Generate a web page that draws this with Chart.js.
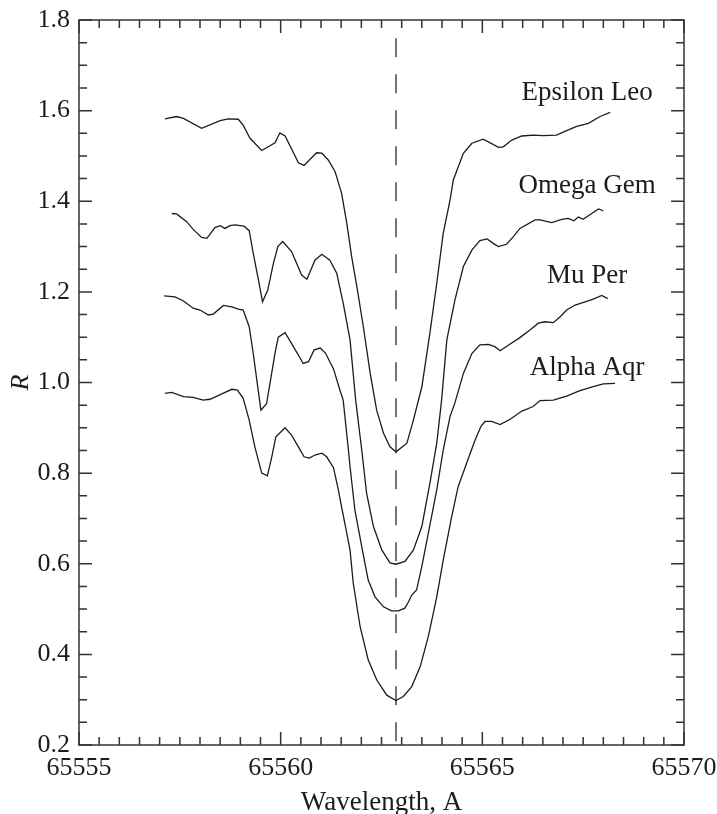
<!DOCTYPE html>
<html>
<head>
<meta charset="utf-8">
<script src="https://cdn.jsdelivr.net/npm/chart.js@4/dist/chart.umd.min.js"></script>
<style>
  html, body { margin: 0; padding: 0; background: #fff; }
  #wrap { width: 717px; height: 814px; }
</style>
</head>
<body>
<div id="wrap"><canvas id="spectraChart"></canvas></div>
<script>
// Data block (wavelength in A, residual intensity R)
const epsX = [65557.13, 65557.42, 65557.59, 65558.04, 65558.50, 65558.70, 65558.95, 65559.07, 65559.24, 65559.53, 65559.86, 65559.98, 65560.11, 65560.44, 65560.58, 65560.89, 65561.02, 65561.18, 65561.35, 65561.51, 65561.64, 65561.76, 65561.89, 65562.05, 65562.22, 65562.38, 65562.55, 65562.71, 65562.86, 65563.13, 65563.29, 65563.50, 65563.70, 65563.87, 65564.03, 65564.20, 65564.28, 65564.53, 65564.74, 65565.02, 65565.15, 65565.40, 65565.52, 65565.73, 65565.98, 65566.26, 65566.51, 65566.84, 65567.09, 65567.34, 65567.63, 65567.92, 65568.17];
const epsY = [1.582, 1.587, 1.583, 1.561, 1.578, 1.582, 1.581, 1.568, 1.539, 1.512, 1.529, 1.551, 1.544, 1.485, 1.479, 1.507, 1.506, 1.491, 1.465, 1.418, 1.351, 1.278, 1.211, 1.123, 1.020, 0.939, 0.888, 0.858, 0.847, 0.866, 0.917, 0.990, 1.109, 1.219, 1.329, 1.403, 1.447, 1.506, 1.528, 1.537, 1.531, 1.519, 1.520, 1.535, 1.544, 1.546, 1.545, 1.546, 1.556, 1.565, 1.572, 1.587, 1.596];

const omgX = [65557.30, 65557.42, 65557.67, 65557.83, 65558.04, 65558.17, 65558.37, 65558.50, 65558.62, 65558.74, 65558.87, 65559.09, 65559.22, 65559.32, 65559.45, 65559.55, 65559.68, 65559.82, 65559.93, 65560.05, 65560.27, 65560.52, 65560.65, 65560.85, 65561.02, 65561.22, 65561.39, 65561.55, 65561.72, 65561.86, 65562.01, 65562.13, 65562.30, 65562.51, 65562.71, 65562.86, 65563.08, 65563.29, 65563.50, 65563.70, 65563.87, 65563.99, 65564.12, 65564.32, 65564.53, 65564.74, 65564.94, 65565.12, 65565.27, 65565.40, 65565.60, 65565.77, 65565.93, 65566.31, 65566.43, 65566.72, 65566.97, 65567.13, 65567.27, 65567.38, 65567.50, 65567.71, 65567.88, 65568.00];
const omgY = [1.373, 1.372, 1.355, 1.338, 1.320, 1.318, 1.342, 1.346, 1.340, 1.346, 1.348, 1.345, 1.335, 1.285, 1.226, 1.178, 1.204, 1.263, 1.300, 1.311, 1.289, 1.237, 1.228, 1.270, 1.283, 1.270, 1.241, 1.175, 1.094, 0.961, 0.851, 0.756, 0.682, 0.630, 0.602, 0.599, 0.605, 0.630, 0.682, 0.778, 0.866, 0.961, 1.094, 1.182, 1.256, 1.292, 1.313, 1.317, 1.307, 1.300, 1.305, 1.322, 1.340, 1.359, 1.359, 1.353, 1.360, 1.362, 1.357, 1.365, 1.360, 1.373, 1.383, 1.379];

const muX = [65557.11, 65557.38, 65557.59, 65557.83, 65558.00, 65558.21, 65558.33, 65558.58, 65558.79, 65558.95, 65559.07, 65559.22, 65559.32, 65559.42, 65559.51, 65559.65, 65559.75, 65559.86, 65559.94, 65560.11, 65560.33, 65560.56, 65560.69, 65560.83, 65560.98, 65561.11, 65561.31, 65561.47, 65561.55, 65561.68, 65561.72, 65561.84, 65562.01, 65562.17, 65562.34, 65562.55, 65562.75, 65562.92, 65563.08, 65563.17, 65563.25, 65563.37, 65563.50, 65563.66, 65563.87, 65564.03, 65564.20, 65564.32, 65564.53, 65564.74, 65564.94, 65565.15, 65565.31, 65565.44, 65565.69, 65565.93, 65566.18, 65566.39, 65566.55, 65566.76, 65566.93, 65567.09, 65567.30, 65567.55, 65567.75, 65567.96, 65568.11];
const muY = [1.191, 1.189, 1.180, 1.164, 1.160, 1.149, 1.151, 1.170, 1.167, 1.162, 1.160, 1.123, 1.064, 0.998, 0.939, 0.953, 1.006, 1.065, 1.100, 1.110, 1.077, 1.042, 1.046, 1.072, 1.076, 1.065, 1.030, 0.983, 0.961, 0.851, 0.814, 0.719, 0.638, 0.564, 0.527, 0.505, 0.496, 0.496, 0.502, 0.516, 0.531, 0.542, 0.594, 0.667, 0.763, 0.851, 0.925, 0.955, 1.020, 1.064, 1.083, 1.084, 1.079, 1.070, 1.085, 1.099, 1.116, 1.131, 1.134, 1.132, 1.145, 1.160, 1.171, 1.178, 1.184, 1.192, 1.185];

const alpX = [65557.13, 65557.30, 65557.59, 65557.83, 65558.08, 65558.25, 65558.54, 65558.79, 65558.93, 65559.07, 65559.22, 65559.36, 65559.53, 65559.67, 65559.78, 65559.88, 65560.11, 65560.27, 65560.44, 65560.58, 65560.71, 65560.85, 65561.02, 65561.14, 65561.31, 65561.43, 65561.50, 65561.64, 65561.72, 65561.80, 65561.97, 65562.17, 65562.38, 65562.63, 65562.86, 65563.04, 65563.25, 65563.46, 65563.66, 65563.87, 65564.03, 65564.24, 65564.40, 65564.61, 65564.82, 65564.97, 65565.07, 65565.23, 65565.44, 65565.69, 65565.98, 65566.26, 65566.43, 65566.76, 65567.09, 65567.42, 65567.75, 65568.00, 65568.29];
const alpY = [0.976, 0.978, 0.969, 0.967, 0.961, 0.963, 0.975, 0.985, 0.983, 0.965, 0.917, 0.858, 0.800, 0.794, 0.836, 0.880, 0.900, 0.884, 0.858, 0.836, 0.833, 0.840, 0.844, 0.836, 0.812, 0.763, 0.730, 0.667, 0.630, 0.557, 0.461, 0.388, 0.344, 0.310, 0.298, 0.307, 0.329, 0.373, 0.439, 0.527, 0.608, 0.704, 0.770, 0.822, 0.873, 0.904, 0.914, 0.914, 0.907, 0.919, 0.937, 0.947, 0.960, 0.961, 0.970, 0.982, 0.991, 0.997, 0.998];

// Rest wavelength marker (dashed line)
const restX = [65562.86, 65562.86];
const restY = [1.76, 0.2];

// Star names written next to the curves
const starNames = ['Epsilon Leo', 'Omega Gem', 'Mu Per', 'Alpha Aqr'];
const nameX = [65567.6, 65567.6, 65567.6, 65567.6];
const nameY = [1.623, 1.419, 1.219, 1.017];

const SERIF = '"Liberation Serif", "Times New Roman", serif';
const INK = '#1c1c1c';

function toPoints(xs, ys) {
    return xs.map((x, i) => ({x: x, y: ys[i]}));
}

function lineSet(xs, ys, extra) {
    return Object.assign({
        data: toPoints(xs, ys),
        showLine: true,
        borderColor: INK,
        borderWidth: 1.3,
        pointRadius: 0,
        tension: 0,
        fill: false,
    }, extra || {});
}

// Frame with inward ticks on all four sides + star names
const frameAndNames = {
    id: 'frameAndNames',
    afterDatasetsDraw(chart) {
        const {ctx, chartArea: a, scales: {x, y}} = chart;
        ctx.save();
        ctx.strokeStyle = '#333';
        ctx.lineWidth = 1.5;
        ctx.strokeRect(a.left, a.top, a.right - a.left, a.bottom - a.top);

        ctx.beginPath();
        // x ticks every 0.5 A, long ones every 5 A
        for (let i = 0; i <= 30; i++) {
            const px = x.getPixelForValue(65555 + i * 0.5);
            const len = i % 10 === 0 ? 13 : 8;
            ctx.moveTo(px, a.bottom); ctx.lineTo(px, a.bottom - len);
            ctx.moveTo(px, a.top); ctx.lineTo(px, a.top + len);
        }
        // y ticks every 0.05, long ones every 0.2
        for (let i = 0; i <= 32; i++) {
            const py = y.getPixelForValue(0.2 + i * 0.05);
            const len = i % 4 === 0 ? 13 : 8;
            ctx.moveTo(a.left, py); ctx.lineTo(a.left + len, py);
            ctx.moveTo(a.right, py); ctx.lineTo(a.right - len, py);
        }
        ctx.stroke();

        ctx.fillStyle = INK;
        ctx.font = '27px ' + SERIF;
        ctx.textAlign = 'center';
        ctx.textBaseline = 'alphabetic';
        starNames.forEach((name, i) => {
            ctx.fillText(name, x.getPixelForValue(nameX[i]), y.getPixelForValue(nameY[i]));
        });
        ctx.restore();
    }
};

// Config block
const spectraConfig = {
    type: 'scatter',
    data: {
        datasets: [
            lineSet(epsX, epsY),
            lineSet(omgX, omgY),
            lineSet(muX, muY),
            lineSet(alpX, alpY),
            lineSet(restX, restY, {borderDash: [19, 17], borderWidth: 1.2}),
        ]
    },
    options: {
        responsive: true,
        maintainAspectRatio: false,
        animation: false,
        layout: {
            padding: {left: 0, top: 20, right: 33, bottom: 0}
        },
        plugins: {
            legend: {display: false},
            tooltip: {enabled: false}
        },
        scales: {
            x: {
                type: 'linear',
                min: 65555,
                max: 65570,
                grid: {display: false, drawTicks: false},
                border: {display: false},
                ticks: {
                    stepSize: 5,
                    padding: 8,
                    color: INK,
                    font: {family: SERIF, size: 26},
                    callback: v => String(v)
                },
                title: {
                    display: true,
                    text: 'Wavelength, A',
                    color: INK,
                    font: {family: SERIF, size: 27, lineHeight: 0.8},
                    padding: {top: 0, bottom: 0}
                },
                // fixed axis height, no extra room for edge labels
                afterFit: scale => {
                    scale.height = 69;
                    scale.paddingLeft = 0;
                    scale.paddingRight = 0;
                }
            },  // End x axis
            y: {
                min: 0.2,
                max: 1.8,
                grid: {display: false, drawTicks: false},
                border: {display: false},
                ticks: {
                    stepSize: 0.2,
                    padding: 9,
                    color: INK,
                    font: {family: SERIF, size: 26},
                    callback: v => v.toFixed(1)
                },
                title: {
                    display: true,
                    text: 'R',
                    color: INK,
                    font: {family: SERIF, size: 26, style: 'italic', lineHeight: 1},
                    padding: {top: 8, bottom: 0}
                },
                afterFit: scale => {
                    scale.width = 79;
                    scale.paddingTop = 0;
                    scale.paddingBottom = 0;
                }
            }  // End y axis
        }
    },
    plugins: [frameAndNames]
};

const spectraChart = new Chart(
    document.getElementById('spectraChart'),
    spectraConfig
);
</script>
</body>
</html>
